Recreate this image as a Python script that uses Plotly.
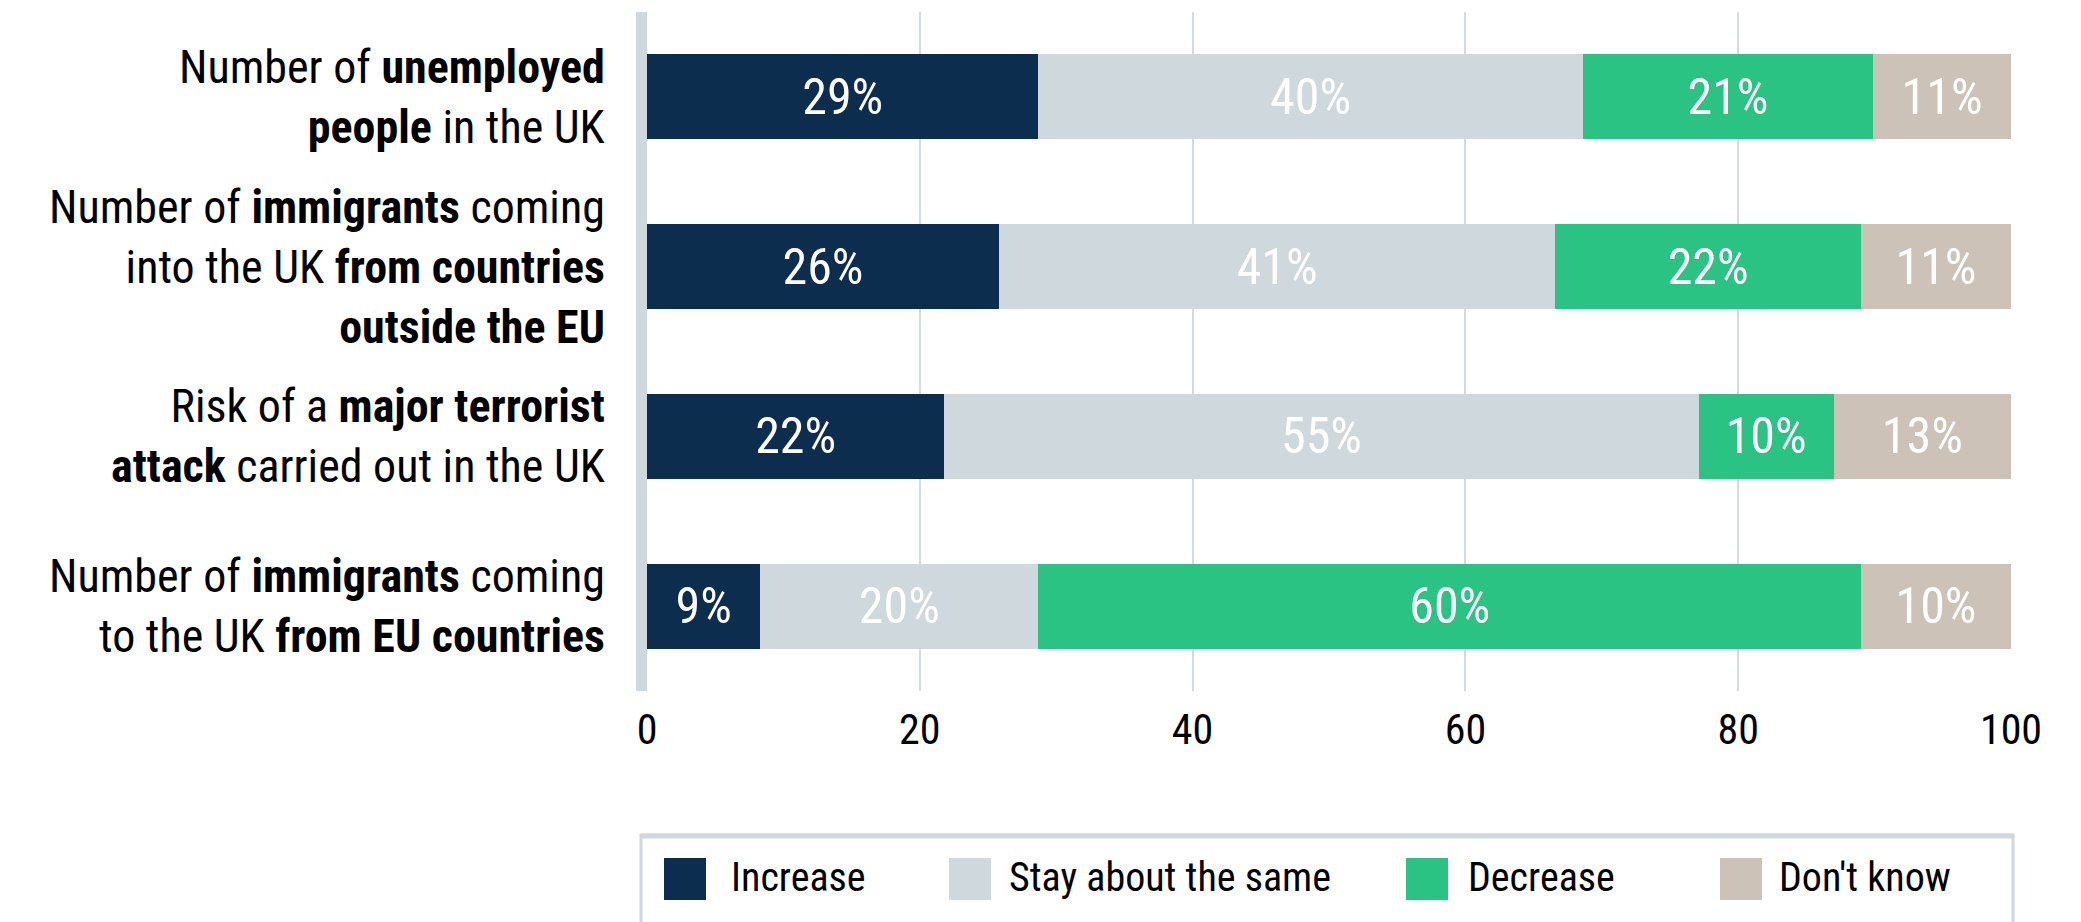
import plotly.graph_objects as go

# ---- data ----
categories = ["unemployed", "immigrants_non_eu", "terrorist_attack", "immigrants_eu"]
category_labels = [
    "Number of <b>unemployed</b><br><b>people</b> in the UK",
    "Number of <b>immigrants</b> coming<br>into the UK <b>from countries</b><br><b>outside the EU</b>",
    "Risk of a <b>major terrorist</b><br><b>attack</b> carried out in the UK",
    "Number of <b>immigrants</b> coming<br>to the UK <b>from EU countries</b>",
]
series_names = ["Increase", "Stay about the same", "Decrease", "Don't know"]
increase = [28.7, 25.8, 21.8, 8.3]
stay_same = [39.9, 40.8, 55.3, 20.4]
decrease = [21.3, 22.4, 9.9, 60.3]
dont_know = [10.1, 11.0, 13.0, 11.0]
increase_labels = ["29%", "26%", "22%", "9%"]
stay_same_labels = ["40%", "41%", "55%", "20%"]
decrease_labels = ["21%", "22%", "10%", "60%"]
dont_know_labels = ["11%", "11%", "13%", "10%"]
x_ticks = [0, 20, 40, 60, 80, 100]

colors = ["#0d2d4f", "#cfd8dd", "#2ac384", "#cdc2b8"]
FONT = "Roboto Condensed, Liberation Sans Narrow, Arial Narrow, DejaVu Sans Condensed, sans-serif"

OFF = 8  # page body margin offset
W, H = 2081 - OFF, 922 - OFF
ML, MR, MT, MB = 647 - OFF, 70, 12 - OFF, 231
PW, PH = W - ML - MR, H - MT - MB


def px_x(p):  # screen pixel -> paper x
    return (p - OFF - ML) / PW


def px_y(p):  # screen pixel -> paper y
    return (H - MB - (p - OFF)) / PH


fig = go.Figure()
for name, vals, labs, col in zip(
    series_names,
    [increase, stay_same, decrease, dont_know],
    [increase_labels, stay_same_labels, decrease_labels, dont_know_labels],
    colors,
):
    fig.add_trace(go.Bar(
        name=name, y=categories, x=vals, orientation="h",
        marker=dict(color=col, line=dict(width=0)),
        text=labs, textposition="inside", insidetextanchor="middle",
        textangle=0, constraintext="none",
        textfont=dict(family=FONT, size=50, color="white"),
        width=0.5, showlegend=False, hoverinfo="skip",
    ))

annotations = []
for cat, lab in zip(categories, category_labels):
    annotations.append(dict(
        text=lab, xref="paper", x=0, xshift=-40, xanchor="right", align="right",
        yref="y", y=cat, yanchor="middle",
        showarrow=False, font=dict(family=FONT, size=46, color="#000"),
    ))

shapes = []
# legend box
shapes.append(dict(type="rect", xref="paper", yref="paper",
                   x0=px_x(641), x1=px_x(2013), y0=px_y(835), y1=px_y(960),
                   line=dict(color="#cfd8dd", width=3), fillcolor="rgba(0,0,0,0)"))
shapes.append(dict(type="line", xref="paper", yref="paper",
                   x0=px_x(641), x1=px_x(2013), y0=px_y(836), y1=px_y(836),
                   line=dict(color="#cfd8dd", width=5)))
swatch_x = [664, 949, 1406, 1720]
text_x = [729, 1007, 1466, 1777]
for sx, tx, name, col in zip(swatch_x, text_x, series_names, colors):
    shapes.append(dict(type="rect", xref="paper", yref="paper",
                       x0=px_x(sx), x1=px_x(sx + 42), y0=px_y(900), y1=px_y(858),
                       line=dict(width=0), fillcolor=col))
    annotations.append(dict(text=name, xref="paper", yref="paper",
                            x=px_x(tx), y=px_y(878), xanchor="left", yanchor="middle",
                            showarrow=False, font=dict(family=FONT, size=40, color="#000")))

fig.update_layout(
    width=W, height=H,
    margin=dict(l=ML, r=MR, t=MT, b=MB, pad=0),
    barmode="stack", bargap=0.5,
    plot_bgcolor="white", paper_bgcolor="white",
    font=dict(family=FONT, color="#000"),
    xaxis=dict(range=[0, 100], tickvals=x_ticks, ticktext=[str(t) for t in x_ticks],
               showgrid=True, gridcolor="#d3dbe0", gridwidth=2, zeroline=False,
               showline=False, ticks="", ticklabelstandoff=10,
               tickfont=dict(family=FONT, size=42, color="#000")),
    yaxis=dict(type="category", categoryorder="array", categoryarray=categories,
               autorange="reversed", showticklabels=False, showgrid=False, zeroline=False,
               showline=True, linecolor="#cfd8dd", linewidth=11, ticks=""),
    annotations=annotations, shapes=shapes,
)

fig.write_html("out.html")
